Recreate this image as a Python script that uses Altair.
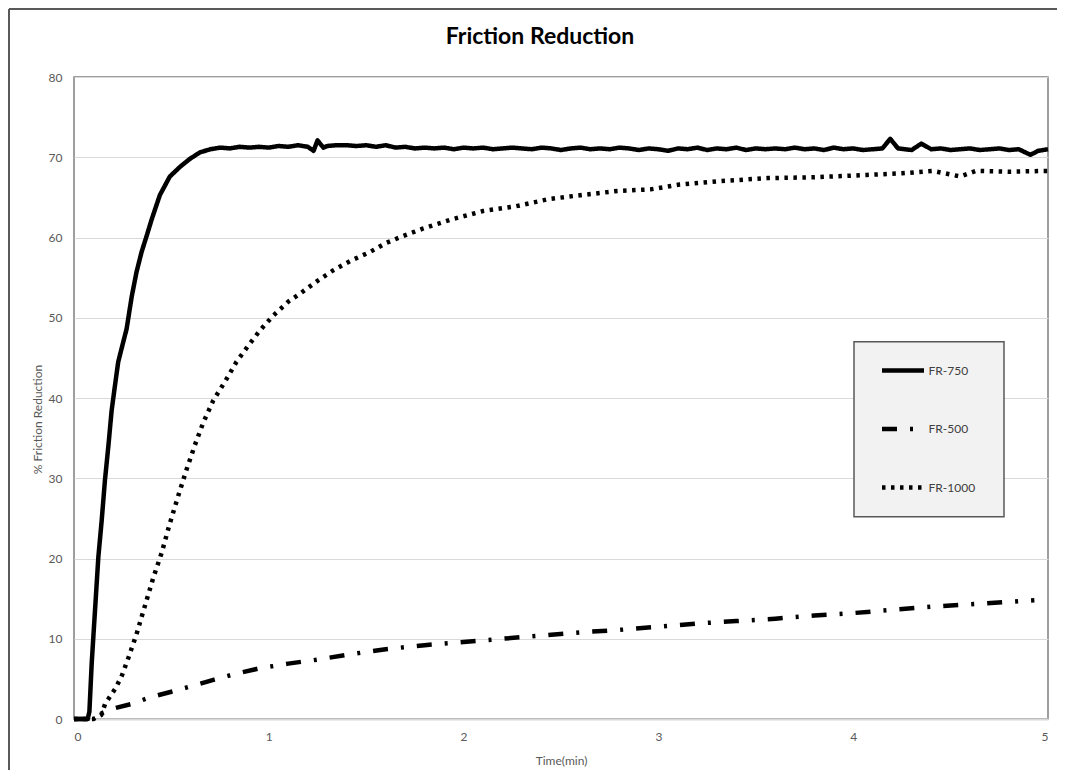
import altair as alt
import pandas as pd

series = ["FR-750", "FR-500", "FR-1000"]
x_ticks = [0, 1, 2, 3, 4, 5]
y_ticks = [0, 10, 20, 30, 40, 50, 60, 70, 80]
title_text = ["Friction Reduction"]

t750 = [0.0, 0.07, 0.079, 0.091, 0.108, 0.125, 0.142, 0.159, 0.176, 0.193, 0.21, 0.227,
        0.253, 0.27, 0.296, 0.321, 0.347, 0.373, 0.398, 0.441, 0.492, 0.544, 0.595, 0.646,
        0.70, 0.75, 0.80, 0.85, 0.90, 0.95, 1.00, 1.05, 1.10, 1.15, 1.20, 1.23, 1.25, 1.28,
        1.30, 1.35, 1.40, 1.45, 1.50, 1.55, 1.60, 1.65, 1.70, 1.75, 1.80, 1.85, 1.90, 1.95,
        2.00, 2.05, 2.10, 2.15, 2.20, 2.25, 2.30, 2.35, 2.40, 2.45, 2.50, 2.55, 2.60, 2.65,
        2.70, 2.75, 2.80, 2.85, 2.90, 2.95, 3.00, 3.05, 3.10, 3.15, 3.20, 3.25, 3.30, 3.35,
        3.40, 3.45, 3.50, 3.55, 3.60, 3.65, 3.70, 3.75, 3.80, 3.85, 3.90, 3.95, 4.00, 4.05,
        4.10, 4.15, 4.19, 4.23, 4.30, 4.35, 4.40, 4.45, 4.50, 4.55, 4.60, 4.65, 4.70, 4.75,
        4.80, 4.85, 4.91, 4.95, 5.00]
v750 = [0.0, 0.0, 0.9, 7.0, 13.6, 20.2, 24.7, 29.8, 33.9, 38.4, 41.5, 44.5,
        47.0, 48.6, 52.6, 55.7, 58.2, 60.2, 62.2, 65.3, 67.6, 68.8, 69.8, 70.6,
        71.0, 71.2, 71.1, 71.3, 71.2, 71.3, 71.2, 71.4, 71.3, 71.5, 71.3, 70.8, 72.1, 71.2,
        71.4, 71.5, 71.5, 71.4, 71.5, 71.3, 71.5, 71.2, 71.3, 71.1, 71.2, 71.1, 71.2, 71.0,
        71.2, 71.1, 71.2, 71.0, 71.1, 71.2, 71.1, 71.0, 71.2, 71.1, 70.9, 71.1, 71.2, 71.0,
        71.1, 71.0, 71.2, 71.1, 70.9, 71.1, 71.0, 70.8, 71.1, 71.0, 71.2, 70.9, 71.1, 71.0,
        71.2, 70.9, 71.1, 71.0, 71.1, 71.0, 71.2, 71.0, 71.1, 70.9, 71.2, 71.0, 71.1, 70.9,
        71.0, 71.1, 72.3, 71.1, 70.9, 71.7, 71.0, 71.1, 70.9, 71.0, 71.1, 70.9, 71.0, 71.1,
        70.9, 71.0, 70.3, 70.8, 71.0]

t500 = [0.0, 0.07, 0.10, 0.15, 0.20, 0.30, 0.39, 0.50, 0.62, 0.72, 0.84, 0.95, 1.10,
        1.25, 1.40, 1.60, 1.80, 2.00, 2.20, 2.40, 2.60, 2.80, 3.00, 3.20, 3.40, 3.60,
        3.80, 4.00, 4.20, 4.40, 4.60, 4.80, 4.93]
v500 = [0.0, 0.0, 0.3, 0.8, 1.3, 1.9, 2.7, 3.4, 4.2, 4.9, 5.7, 6.3, 6.9,
        7.4, 8.0, 8.7, 9.2, 9.6, 10.0, 10.4, 10.8, 11.1, 11.5, 11.9, 12.2, 12.5,
        12.9, 13.2, 13.6, 14.0, 14.3, 14.6, 14.8]

t1000 = [0.0, 0.10, 0.14, 0.16, 0.185, 0.21, 0.244, 0.279, 0.32, 0.364, 0.407, 0.45, 0.49,
         0.535, 0.578, 0.62, 0.663, 0.715, 0.774, 0.834, 0.894, 0.954, 1.02, 1.10, 1.16,
         1.25, 1.33, 1.42, 1.52, 1.60, 1.67, 1.79, 1.93, 2.10, 2.27, 2.44, 2.61, 2.79,
         2.96, 3.11, 3.30, 3.56, 3.80, 4.07, 4.25, 4.41, 4.55, 4.63, 4.80, 5.00]
v1000 = [0.0, 0.0, 0.5, 1.9, 2.8, 3.7, 5.3, 7.6, 10.5, 14.1, 17.6, 20.7, 24.2,
         27.8, 31.1, 34.1, 36.9, 39.7, 42.0, 44.5, 46.5, 48.4, 50.2, 52.0, 53.0,
         54.6, 55.9, 57.1, 58.2, 59.3, 60.0, 61.1, 62.2, 63.3, 63.9, 64.8, 65.3, 65.8,
         66.0, 66.6, 67.0, 67.4, 67.5, 67.8, 68.0, 68.3, 67.6, 68.3, 68.2, 68.3]

rows = []
for name, ts, vs in zip(series, [t750, t500, t1000], [v750, v500, v1000]):
    for t, v in zip(ts, vs):
        rows.append({"series": name, "t": t, "v": v})
df = pd.DataFrame(rows)

FONT = "Lato"
GREY = "#595959"

lines = alt.Chart(df).mark_line(
    color="black", strokeWidth=4.5, strokeCap="butt", strokeJoin="round"
).encode(
    x=alt.X("t:Q", scale=alt.Scale(domain=[0, 5], nice=False),
            axis=alt.Axis(values=x_ticks, title="Time(min)", grid=False, ticks=False,
                          domain=True, domainColor="#d9d9d9", domainWidth=2,
                          labelPadding=12, labelFont=FONT, labelFontSize=12,
                          labelColor=GREY, titleFont=FONT, titleFontSize=12,
                          titleFontWeight="normal", titleColor=GREY,
                          titleY=41, titleBaseline="middle")),
    y=alt.Y("v:Q", scale=alt.Scale(domain=[0, 80], nice=False),
            axis=alt.Axis(values=y_ticks, title="% Friction Reduction", grid=True,
                          gridColor="#d9d9d9", gridWidth=1, domain=False, ticks=False,
                          labelPadding=12, labelFont=FONT, labelFontSize=12,
                          labelColor=GREY, titleFont=FONT, titleFontSize=12,
                          titleFontWeight="normal", titleColor=GREY,
                          titleX=-37, titleY=342, titleAngle=270,
                          titleBaseline="middle", titleAlign="center")),
    strokeDash=alt.StrokeDash(
        "series:N",
        scale=alt.Scale(domain=series, range=[[1, 0], [15, 13, 3, 13], [3.5, 5.5]]),
        legend=alt.Legend(title=None, orient="none", legendX=805.5, legendY=270,
                          padding=0, rowPadding=25.5, symbolSize=1764,
                          symbolStrokeWidth=4.5, symbolStrokeColor="black",
                          labelFont=FONT, labelFontSize=12, labelColor="#404040",
                          labelOffset=2, symbolType="stroke"),
    ),
)

one = pd.DataFrame({"a": [0]})
frame_left = alt.Chart(one).mark_rule(stroke=GREY, strokeWidth=2).encode(
    x=alt.value(-65), y=alt.value(-68), y2=alt.value(700)
)
frame_top = alt.Chart(one).mark_rule(stroke=GREY, strokeWidth=2).encode(
    x=alt.value(-65), x2=alt.value(1000), y=alt.value(-68)
)
legend_box = alt.Chart(one).mark_rect(fill="#f2f2f2", stroke=GREY, strokeWidth=1.5).encode(
    x=alt.value(780), x2=alt.value(930), y=alt.value(264.7), y2=alt.value(439.7)
)
title = alt.Chart(pd.DataFrame({"title": title_text})).mark_text(
    font=FONT, fontSize=23, fontWeight="bold", color="black",
    align="center", baseline="alphabetic"
).encode(text="title:N", x=alt.value(466), y=alt.value(-33.5))

chart = alt.layer(frame_left, frame_top, legend_box, lines, title).properties(
    width=974, height=642,
    autosize="none",
    padding={"left": 66, "top": 69, "right": 9, "bottom": 51},
).configure_view(stroke="#7f7f7f", strokeWidth=1.5)

chart.save("out.html", embed_options={"renderer": "svg", "actions": False})
